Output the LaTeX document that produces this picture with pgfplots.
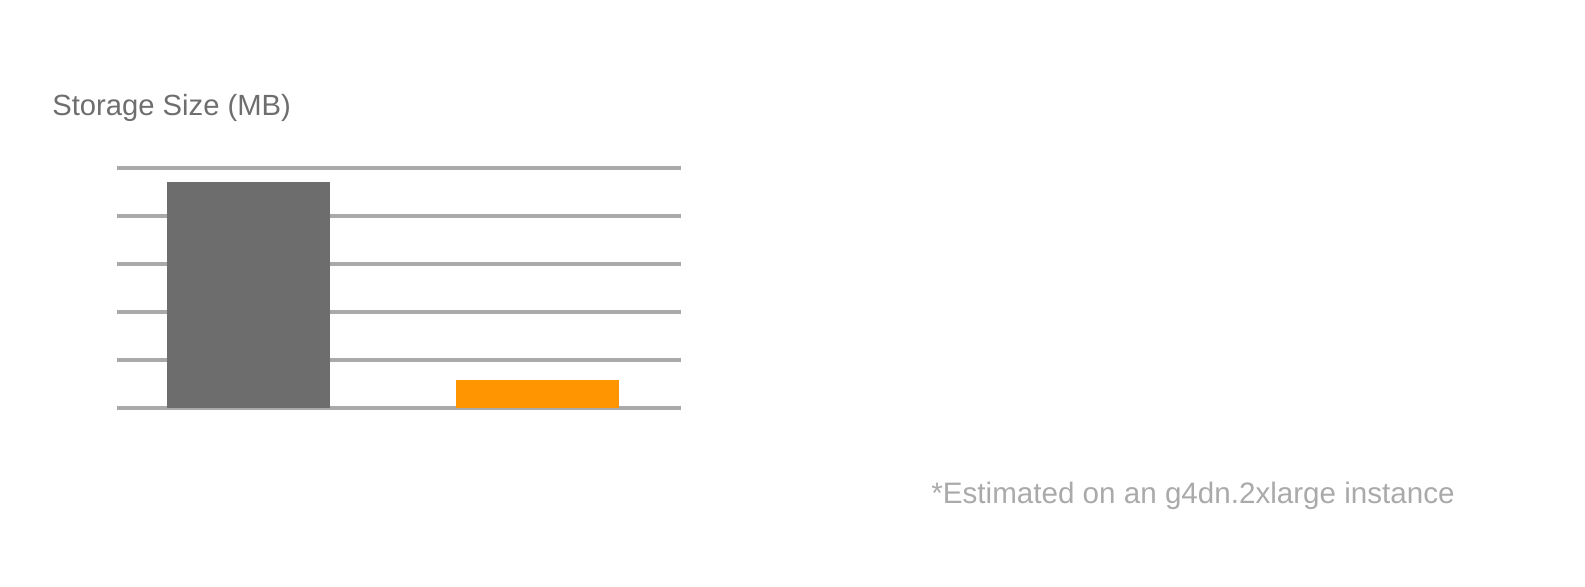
\documentclass[border=0pt]{standalone}
\usepackage{pgfplots}
\pgfplotsset{compat=1.18}
\usepackage{fontspec}
\setmainfont{Liberation Sans}

\definecolor{bargray}{HTML}{6D6D6D}
\definecolor{barorange}{HTML}{FF9500}
\definecolor{gridgray}{HTML}{A9A9A9}
\definecolor{titlegray}{HTML}{6E6E6E}
\definecolor{notegray}{HTML}{AAAAAA}

\begin{document}
\begin{tikzpicture}
% page size: 1585 x 587 px at 0.5pt per px
\path[use as bounding box] (0,0) rectangle (792.5pt,293.5pt);

\begin{axis}[
    at={(58.5pt,89.5pt)}, anchor=south west,
    scale only axis,
    width=282pt, height=120pt,
    xmin=0, xmax=564,
    ymin=0, ymax=5,
    ytick={0,1,2,3,4,5},
    xtick=\empty,
    yticklabels={},
    major tick length=0pt,
    ymajorgrids=true,
    grid style={line width=2pt, color=gridgray},
    axis line style={draw=none},
    ybar, bar width=81.5pt,
]
\addplot[fill=bargray, draw=none, bar shift=0pt] coordinates {(131.5,4.71)};
\addplot[fill=barorange, draw=none, bar shift=0pt] coordinates {(420.5,0.58)};
\end{axis}

\node[anchor=base west, inner sep=0pt, text=titlegray, font=\fontsize{14.6pt}{17pt}\selectfont]
    at (26pt,235.5pt) {Storage Size (MB)};
\node[anchor=base west, inner sep=0pt, text=notegray, font=\fontsize{14.8pt}{17pt}\selectfont]
    at (465.5pt,41.5pt) {*Estimated on an g4dn.2xlarge instance};
\end{tikzpicture}
\end{document}
